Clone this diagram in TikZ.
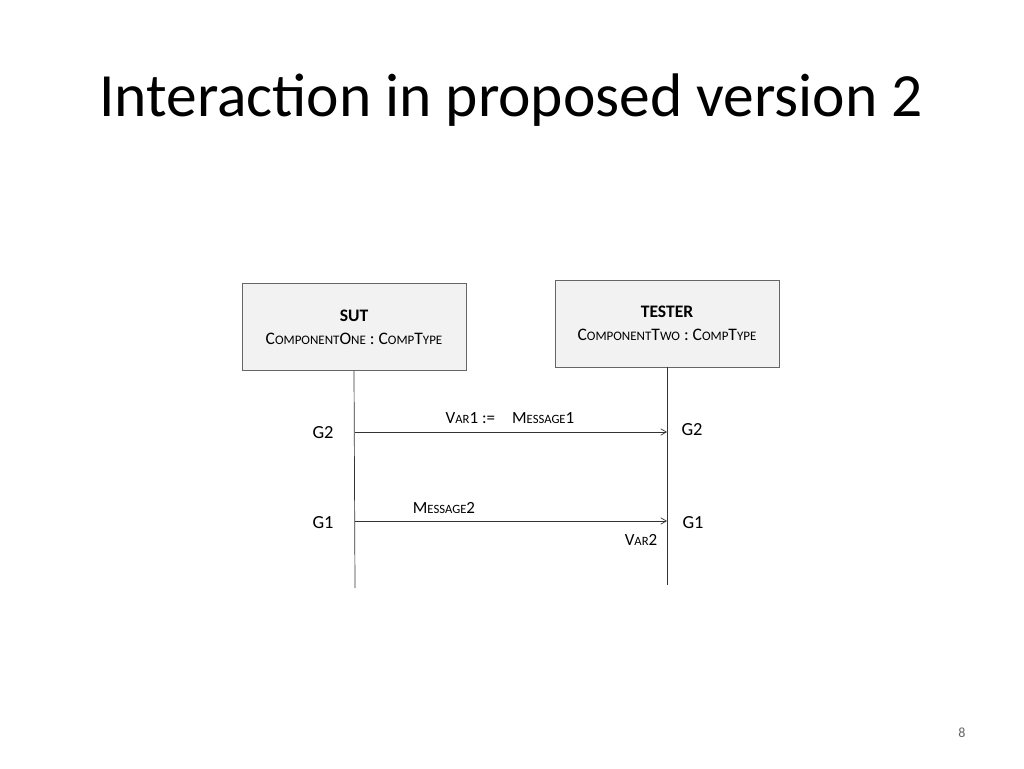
\documentclass[tikz,border=0pt]{standalone}
\usepackage{fontspec}
\setmainfont{Carlito}
\usetikzlibrary{arrows}
\tikzset{>=angle 60}
% small caps imitation: big first letter, smaller rest
\newcommand{\scsize}{\fontsize{7.4}{8}\selectfont}
\newcommand{\sca}[2]{#1{\scsize #2}}
\begin{document}
\begin{tikzpicture}[x=0.02cm,y=-0.02cm]
  \tikzstyle{lifebox}=[draw=black!60, fill=black!5, minimum width=4.48cm, minimum height=1.74cm, align=center, font=\fontsize{10}{13}\selectfont\renewcommand{\scsize}{\fontsize{7.4}{8}\selectfont}]
  \tikzstyle{gate}=[font=\fontsize{10.5}{12}\selectfont]
  \tikzstyle{msg}=[font=\fontsize{9.7}{11}\selectfont\renewcommand{\scsize}{\fontsize{7.2}{8}\selectfont}]
  \useasboundingbox (0,0) rectangle (1024,768);
  \node (title) at (511,100) {\fontsize{35}{40}\selectfont Interaction in proposed version 2};
  \node (page) at (962,733) {\fontsize{8}{10}\selectfont\color{black!60}8};

  \node[lifebox] (sut) at (354,327) {\textbf{SUT}\\ \sca{C}{OMPONENT}\sca{O}{NE} : \sca{C}{OMP}\sca{T}{YPE}};
  \node[lifebox] (tester) at (667,323.5) {\textbf{TESTER}\\ \sca{C}{OMPONENT}\sca{T}{WO} : \sca{C}{OMP}\sca{T}{YPE}};
  \coordinate (sutend) at (355,588);
  \coordinate (testerend) at (667,585);
  \draw[black!80] (sut.south) -- (sutend);
  \draw[black!80] (tester.south) -- (testerend);

  \coordinate (a1) at (355,432);
  \coordinate (b1) at (667,432);
  \draw[->, black!80] (a1) -- (b1);
  \node[msg] (m1) at (510,418) {\sca{V}{AR}1 :=\quad \sca{M}{ESSAGE}1};
  \node[gate] (g2l) at (323,433) {G2};
  \node[gate] (g2r) at (692,430) {G2};

  \coordinate (a2) at (355,521);
  \coordinate (b2) at (667,521);
  \draw[->, black!80] (a2) -- (b2);
  \node[msg] (m2) at (444,508) {\sca{M}{ESSAGE}2};
  \node[gate] (g1l) at (323,523) {G1};
  \node[gate] (g1r) at (693,523) {G1};
  \node[msg] (v2) at (641,540) {\sca{V}{AR}2};
\end{tikzpicture}
\end{document}
